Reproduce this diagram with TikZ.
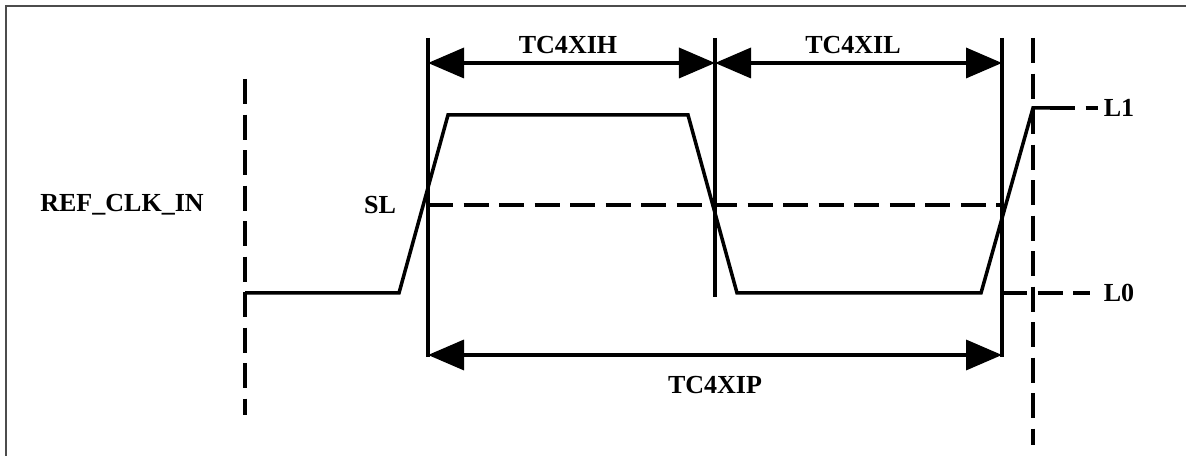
\documentclass[tikz,border=0pt]{standalone}
\usepackage{fontspec}
\setmainfont{Liberation Serif}
\usetikzlibrary{arrows.meta}
\tikzset{
  lbl/.style={font=\fontsize{7.4}{8.8}\selectfont\bfseries, inner sep=0pt},
  wave/.style={line width=1pt, line join=miter},
  guide/.style={line width=1pt, dash pattern=on 0.25cm off 0.105cm},
  dim/.style={line width=1pt, {Triangle[length=0.36cm,width=0.30cm]}-{Triangle[length=0.36cm,width=0.30cm]}},
}
\begin{document}
\begin{tikzpicture}[x=0.01cm,y=-0.01cm]
                \useasboundingbox (0,0) rectangle (1186,456);
                \draw[black!70, line width=0.45pt] (6,456) -- (6,6) -- (1186,6);

                \node[lbl] (refclk) at (122,205) {REF\_CLK\_IN};
                \node[lbl] (sl) at (380,205) {SL};
                \node[lbl] (tch) at (568,45) {TC4XIH};
                \node[lbl] (tcl) at (853,45) {TC4XIL};
                \node[lbl] (tcp) at (715,385) {TC4XIP};
                \node[lbl] (l1) at (1119,108) {L1};
                \node[lbl] (l0) at (1119,293) {L0};

                \coordinate (start) at (245,293);
                \coordinate (rise1a) at (399,293);
                \coordinate (rise1b) at (448,115);
                \coordinate (fall1a) at (688,115);
                \coordinate (fall1b) at (737,293);
                \coordinate (rise2a) at (981,293);
                \coordinate (rise2b) at (1033,108);
                \coordinate (hiend) at (1050,108);
                \coordinate (l1end) at (1098,108);
                \coordinate (l0beg) at (1002,293);
                \coordinate (l0end) at (1090,293);
                \coordinate (slbeg) at (428,205);
                \coordinate (slend) at (1002,205);

                \coordinate (v1top) at (428,38);
                \coordinate (v1bot) at (428,357);
                \coordinate (v2top) at (715,38);
                \coordinate (v2bot) at (715,297);
                \coordinate (v3top) at (1002,38);
                \coordinate (v3bot) at (1002,357);
                \coordinate (d1top) at (245,79);
                \coordinate (d1bot) at (245,415);
                \coordinate (d2top) at (1033,38);
                \coordinate (d2bot) at (1033,445);

                \coordinate (h1) at (428,63);
                \coordinate (h2) at (715,63);
                \coordinate (h3) at (1002,63);
                \coordinate (p1) at (428,355);
                \coordinate (p2) at (1002,355);

                % waveform
                \draw[wave] (start) -- (rise1a) -- (rise1b) -- (fall1a) -- (fall1b)
                    -- (rise2a) -- (rise2b) -- (hiend);

                % guide lines
                \draw[guide] (d1top) to (d1bot);
                \draw[guide] (d2top) to (d2bot);
                \draw[guide] (slbeg) to (slend);
                \draw[guide] (hiend) to (l1end);
                \draw[guide] (l0beg) to (l0end);

                \draw[wave] (v1top) to (v1bot);
                \draw[wave] (v2top) to (v2bot);
                \draw[wave] (v3top) to (v3bot);

                \draw[dim] (h1) to (h2);
                \draw[dim] (h2) to (h3);
                \draw[dim] (p1) to (p2);
            \end{tikzpicture}
\end{document}
